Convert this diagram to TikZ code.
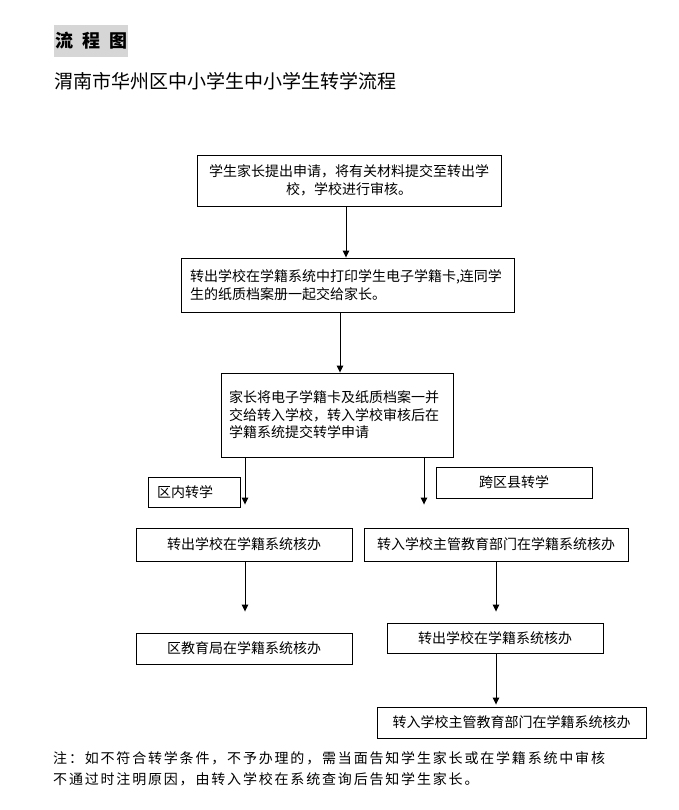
\documentclass[tikz,border=0pt]{standalone}
\usepackage{fontspec}
\setmainfont{Noto Sans CJK SC}
\newfontfamily\notefont[LetterSpace=13]{Noto Sans CJK SC}
\usetikzlibrary{arrows.meta}
\definecolor{titlebg}{HTML}{D6D6D6}
\tikzset{
  box/.style={draw=black, line width=0.9pt, inner sep=0pt, font=\fontsize{14pt}{17.5pt}\selectfont},
  arr/.style={draw=black, line width=0.9pt, -{Triangle[width=6.5pt,length=7pt]}},
}
\begin{document}
\begin{tikzpicture}[x=1pt,y=-1pt]
\useasboundingbox[fill=white] (0,0) rectangle (679,810);
% title
\node[fill=titlebg, minimum width=74pt, minimum height=32pt, inner sep=0pt,
      font=\fontsize{18pt}{20pt}\selectfont\bfseries] (title) at (91,41) {流\hspace{9pt}程\hspace{9pt}图};
\node[anchor=west, inner sep=0pt, font=\fontsize{19pt}{22pt}\selectfont] (sub) at (54,81) {渭南市华州区中小学生中小学生转学流程};
% boxes
\node[box, minimum width=304pt, minimum height=51pt, align=center, text width=290pt] (b1) at (349,180.5)
  {学生家长提出申请，将有关材料提交至转出学\\校，学校进行审核。};
\node[box, minimum width=333pt, minimum height=54pt, align=left, text width=315pt] (b2) at (347.5,285)
  {转出学校在学籍系统中打印学生电子学籍卡,连同学\\生的纸质档案册一起交给家长。};
\node[box, minimum width=232pt, minimum height=84pt, align=left, text width=216pt] (b3) at (337,415)
  {家长将电子学籍卡及纸质档案一并\\交给转入学校，转入学校审核后在\\学籍系统提交转学申请\\[6pt]};
\node[box, minimum width=92pt, minimum height=30pt, align=left, text width=74pt] (qn) at (194,492) {区内转学};
\node[box, minimum width=156pt, minimum height=31pt, align=center] (kq) at (514,482.5) {跨区县转学};
\node[box, minimum width=216pt, minimum height=33pt, align=center] (l1) at (244,544.5) {转出学校在学籍系统核办};
\node[box, minimum width=264pt, minimum height=33pt, align=center] (r1) at (496,544.5) {转入学校主管教育部门在学籍系统核办};
\node[box, minimum width=216pt, minimum height=31pt, align=center] (l2) at (244,648.5) {区教育局在学籍系统核办};
\node[box, minimum width=216pt, minimum height=30pt, align=center] (r2) at (495,638) {转出学校在学籍系统核办};
\node[box, minimum width=269pt, minimum height=31pt, align=center] (r3) at (511.5,722.5) {转入学校主管教育部门在学籍系统核办};
% arrows
\draw[arr] (b1.south -| 346,0) -- (b2.north -| 346,0);
\draw[arr] (b2.south -| 340,0) -- (b3.north -| 340,0);
\draw[arr, shorten >=23pt] (b3.south -| 245,0) -- (l1.north -| 245,0);
\draw[arr, shorten >=23pt] (b3.south -| 424,0) -- (r1.north -| 424,0);
\draw[arr, shorten >=21pt] (l1.south -| 245,0) -- (l2.north -| 245,0);
\draw[arr, shorten >=11pt] (r1.south -| 496,0) -- (r2.north -| 496,0);
\draw[arr, shorten >=2pt] (r2.south -| 496,0) -- (r3.north -| 496,0);
% note
\node[anchor=west, inner sep=0pt, font=\fontsize{14pt}{16pt}\notefont] (n1) at (53,758)
  {注：如不符合转学条件，不予办理的，需当面告知学生家长或在学籍系统中审核};
\node[anchor=west, inner sep=0pt, font=\fontsize{14pt}{16pt}\notefont] (n2) at (53,779)
  {不通过时注明原因，由转入学校在系统查询后告知学生家长。};
\end{tikzpicture}
\end{document}
